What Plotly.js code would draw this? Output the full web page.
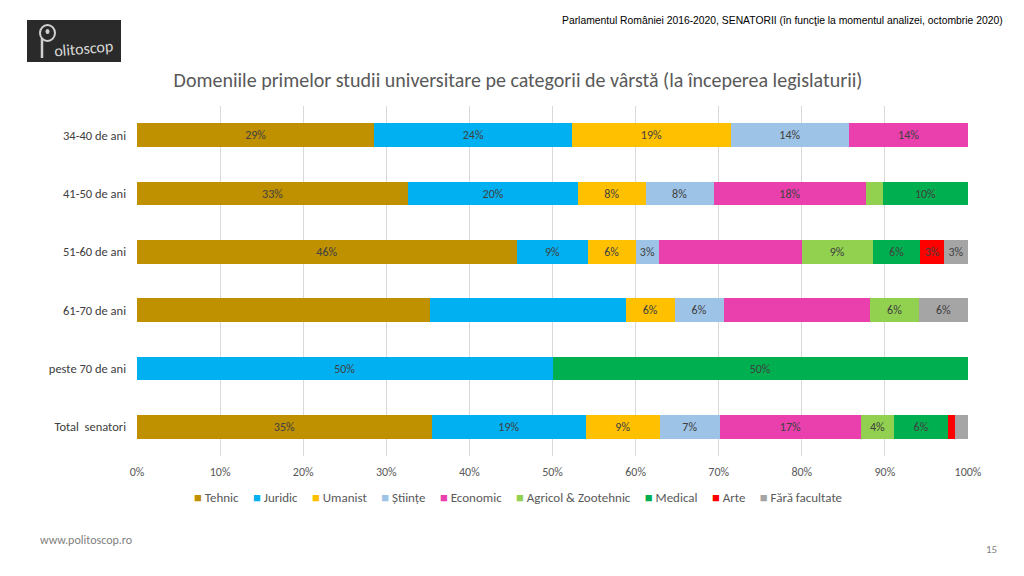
<!DOCTYPE html>
<html><head><meta charset="utf-8">
<script src="https://cdn.plot.ly/plotly-3.0.1.min.js"></script>
<style>body{margin:0;background:#fff;} #chart{width:1024px;height:576px;}</style>
</head><body><div id="chart"></div>
<script>
// ---- data (percent of senators in each age group) ----
const categories = ["34-40 de ani", "41-50 de ani", "51-60 de ani", "61-70 de ani", "peste 70 de ani", "Total\u00a0 senatori"];
const seriesNames = ["Tehnic", "Juridic", "Umanist", "Științe", "Economic", "Agricol & Zootehnic", "Medical", "Arte", "Fără facultate"];
const tehnic   = [28.57, 32.65, 45.71, 35.29, 0, 35.48];
const juridic  = [23.81, 20.41, 8.57, 23.53, 50, 18.55];
const umanist  = [19.05, 8.16, 5.71, 5.88, 0, 8.87];
const stiinte  = [14.29, 8.16, 2.86, 5.88, 0, 7.26];
const economic = [14.29, 18.37, 17.14, 17.65, 0, 16.94];
const agricol  = [0, 2.04, 8.57, 5.88, 0, 4.03];
const medical  = [0, 10.20, 5.71, 0, 50, 6.45];
const arte     = [0, 0, 2.86, 0, 0, 0.81];
const fara     = [0, 0, 2.86, 5.88, 0, 1.61];
const xTicks   = [0, 10, 20, 30, 40, 50, 60, 70, 80, 90, 100];
// data labels that are not shown on the original chart: [series, category index]
const hiddenLabels = [["Tehnic", 3], ["Juridic", 3], ["Economic", 3], ["Economic", 2], ["Agricol & Zootehnic", 1], ["Arte", 5], ["Fără facultate", 5]];

const seriesValues = [tehnic, juridic, umanist, stiinte, economic, agricol, medical, arte, fara];
const colors = ["#BF9000", "#00B0F0", "#FFC000", "#9DC3E6", "#E940AE", "#92D050", "#00B050", "#FF0000", "#A5A5A5"];

const FONT = "Carlito, Lato, 'Open Sans', sans-serif";
const ARIAL = "'Liberation Sans', Arial, sans-serif";

const traces = seriesNames.map((name, i) => {
  const vals = seriesValues[i];
  const text = vals.map((v, j) => {
    if (v <= 0) return "";
    if (hiddenLabels.some(h => h[0] === name && h[1] === j)) return "";
    return Math.round(v) + "%";
  });
  return {
    type: "bar", orientation: "h", name: name,
    y: categories, x: vals, text: text,
    textposition: "inside", insidetextanchor: "middle", textangle: 0,
    constraintext: "none",
    textfont: {family: FONT, size: 12, color: "#404040"},
    marker: {color: colors[i], line: {width: 0}},
    hoverinfo: "x+name"
  };
});

// plot area in pixels
const PL = 137, PR = 968, PT = 106, PB = 456;
const px = v => (v - PL) / (PR - PL);
const py = v => (PB - v) / (PB - PT);

// legend drawn as one line of text (coloured squares + series names)
const legendText = seriesNames.map((n, i) =>
  `<span style="color:${colors[i]}">■</span> ${n}`).join("\u00a0\u00a0\u00a0\u00a0\u2009");

const layout = {
  width: 1024, height: 576,
  paper_bgcolor: "#fff", plot_bgcolor: "#fff",
  margin: {l: PL, r: 1024 - PR, t: PT, b: 576 - PB, pad: 0},
  barmode: "stack", bargap: 0.59,
  showlegend: false,
  font: {family: FONT, color: "#595959", size: 12},
  title: {
    text: "Domeniile primelor studii universitare pe categorii de vârstă (la începerea legislaturii)",
    font: {family: FONT, size: 20, color: "#595959"},
    xref: "container", x: 518 / 1024, xanchor: "center",
    yref: "container", y: 1 - 80 / 576, yanchor: "middle"
  },
  xaxis: {
    range: [0, 100], tickvals: xTicks, ticktext: xTicks.map(t => t + "%"),
    showgrid: true, gridcolor: "#D9D9D9", gridwidth: 1,
    zeroline: false, showline: false, ticks: "",
    ticklabelstandoff: 7,
    tickfont: {family: FONT, size: 12, color: "#595959"},
    fixedrange: true
  },
  yaxis: {
    type: "category", autorange: "reversed",
    showgrid: false, zeroline: false, showline: false, ticks: "",
    ticklabelstandoff: 10,
    tickfont: {family: FONT, size: 12.5, color: "#404040"},
    fixedrange: true
  },
  shapes: [
    {type: "rect", xref: "paper", yref: "paper", x0: px(27), x1: px(121), y0: py(62), y1: py(20),
     fillcolor: "#2A2A2A", line: {width: 0}, layer: "above"},
    {type: "circle", xref: "paper", yref: "paper", x0: px(40), x1: px(55), y0: py(41), y1: py(25),
     fillcolor: "rgba(0,0,0,0)", line: {width: 2, color: "#D0D0D0"}, layer: "above"},
    {type: "line", xref: "paper", yref: "paper", x0: px(42), x1: px(42), y0: py(58), y1: py(38),
     line: {width: 2.5, color: "#D0D0D0"}, layer: "above"},
    {type: "circle", xref: "paper", yref: "paper", x0: px(45.5), x1: px(49.5), y0: py(34), y1: py(29),
     fillcolor: "#D0D0D0", line: {width: 0}, layer: "above"}
  ],
  annotations: [
    {text: "Parlamentul României 2016-2020, SENATORII (în funcţie la momentul analizei, octombrie 2020)",
     xref: "paper", yref: "paper", x: px(1005), y: py(21), xanchor: "right", yanchor: "middle",
     showarrow: false, font: {family: ARIAL, size: 10.35, color: "#000"}},
    {text: "olitoscop", xref: "paper", yref: "paper", x: px(83), y: py(48), xanchor: "center", yanchor: "middle",
     showarrow: false, textangle: -5, font: {family: FONT, size: 16, color: "#D8D8D8"}},
    {text: legendText, xref: "paper", yref: "paper", x: px(518), y: py(497), xanchor: "center", yanchor: "middle",
     showarrow: false, font: {family: FONT, size: 13, color: "#595959"}},
    {text: "www.politoscop.ro", xref: "paper", yref: "paper", x: px(38), y: py(540), xanchor: "left", yanchor: "middle",
     showarrow: false, font: {family: FONT, size: 12, color: "#7F7F7F"}},
    {text: "15", xref: "paper", yref: "paper", x: px(991), y: py(549), xanchor: "center", yanchor: "middle",
     showarrow: false, font: {family: FONT, size: 11, color: "#7F7F7F"}}
  ]
};

Plotly.newPlot("chart", traces, layout, {displayModeBar: false, staticPlot: true});
</script>
</body></html>
